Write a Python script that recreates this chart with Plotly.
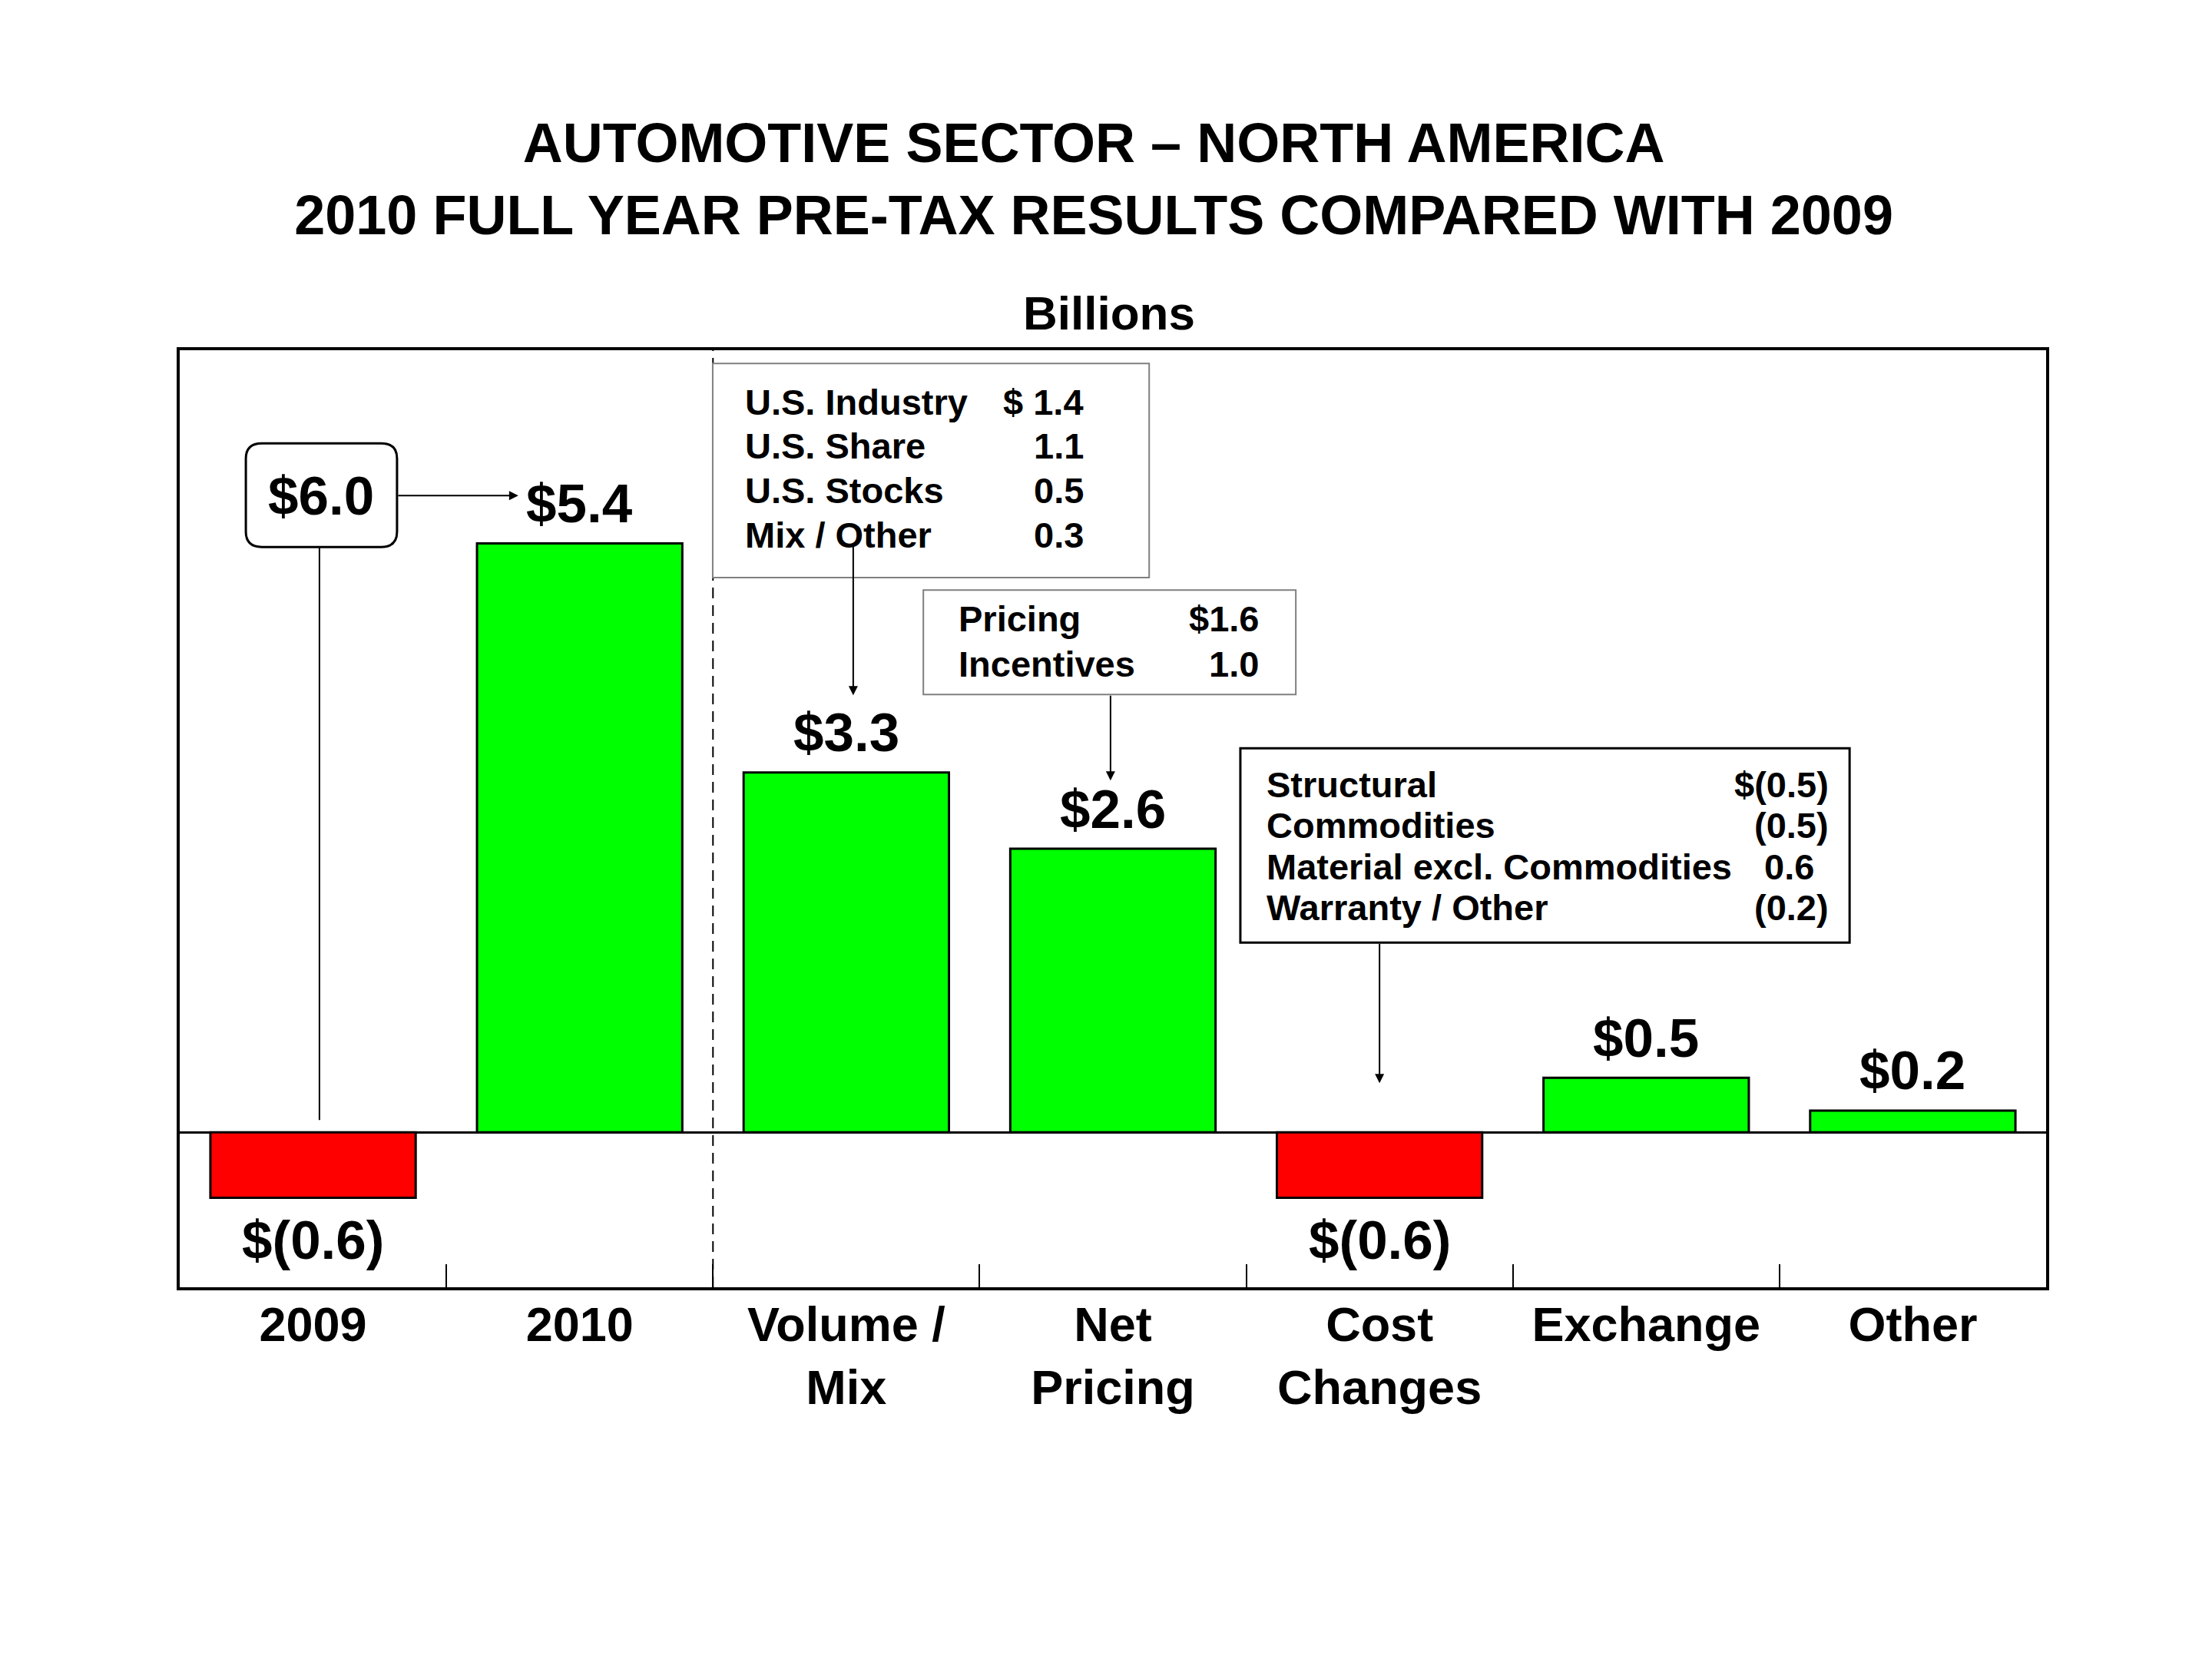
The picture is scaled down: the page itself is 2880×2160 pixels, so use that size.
import plotly.graph_objects as go

# Chart data
categories = ["2009", "2010", "Volume /<br>Mix", "Net<br>Pricing", "Cost<br>Changes", "Exchange", "Other"]
values = [-0.6, 5.4, 3.3, 2.6, -0.6, 0.5, 0.2]
value_labels = ["$(0.6)", "$5.4", "$3.3", "$2.6", "$(0.6)", "$0.5", "$0.2"]

prior_total_label = "$6.0"

volume_items = ["U.S. Industry", "U.S. Share", "U.S. Stocks", "Mix / Other"]
volume_values = ["$ 1.4", "1.1", "0.5", "0.3"]

pricing_items = ["Pricing", "Incentives"]
pricing_values = ["$1.6", "1.0"]

cost_items = ["Structural", "Commodities", "Material excl. Commodities", "Warranty / Other"]
cost_values = ["$(0.5)", "(0.5)", "0.6", "(0.2)"]

FONT = "Liberation Sans, Arial, sans-serif"
GREEN = "#00FF00"
RED = "#FF0000"

bar_colors = [GREEN if v >= 0 else RED for v in values]

fig = go.Figure(
    go.Bar(
        x=categories,
        y=values,
        width=0.77,
        marker=dict(color=bar_colors, line=dict(color="black", width=3)),
        hoverinfo="skip",
    )
)

shapes = []
annotations = []


def add_text(x, y, text, size=47, xanchor="left", yshift=0):
    annotations.append(
        dict(
            x=x, y=y, xref="x", yref="y", text=text, showarrow=False,
            xanchor=xanchor, yanchor="middle", yshift=yshift,
            font=dict(family=FONT, size=size, color="black", weight="bold"),
        )
    )


def add_arrow(x, y_from, y_to):
    annotations.append(
        dict(
            x=x, y=y_to, ax=x, ay=y_from,
            xref="x", yref="y", axref="x", ayref="y", text="",
            showarrow=True, arrowhead=2, arrowsize=1.2, arrowwidth=2,
            arrowcolor="black", standoff=0, startstandoff=0,
        )
    )


def add_box(x0, x1, y0, y1, color="black", width=2):
    shapes.append(
        dict(type="rect", xref="x", yref="y", x0=x0, x1=x1, y0=y0, y1=y1,
             line=dict(color=color, width=width), fillcolor="white", layer="above")
    )


def rounded_box(x0, x1, y0, y1, rx, ry):
    return (
        f"M {x0 + rx},{y1} L {x1 - rx},{y1} Q {x1},{y1} {x1},{y1 - ry} "
        f"L {x1},{y0 + ry} Q {x1},{y0} {x1 - rx},{y0} "
        f"L {x0 + rx},{y0} Q {x0},{y0} {x0},{y0 + ry} "
        f"L {x0},{y1 - ry} Q {x0},{y1} {x0 + rx},{y1} Z"
    )


# value labels above / below each bar
for i, (v, lab) in enumerate(zip(values, value_labels)):
    add_text(i, v, lab, size=71, xanchor="center", yshift=52 if v >= 0 else -55)

# divider between the two years and the walk items
shapes.append(
    dict(type="line", xref="x", yref="paper", x0=1.5, x1=1.5, y0=0, y1=1,
         line=dict(color="black", width=2, dash="14px,9px"))
)

# 2009 reported total box with connector lines
shapes.append(
    dict(type="path", xref="x", yref="y",
         path=rounded_box(-0.252, 0.315, 5.366, 6.317, 0.06, 0.14),
         line=dict(color="black", width=3), fillcolor="white")
)
add_text(0.03, 5.838, prior_total_label, size=71, xanchor="center")
shapes.append(
    dict(type="line", xref="x", yref="y", x0=0.024, x1=0.024, y0=5.366, y1=0.113,
         line=dict(color="black", width=2))
)
annotations.append(
    dict(x=0.77, y=5.838, ax=0.315, ay=5.838, xref="x", yref="y", axref="x", ayref="y",
         text="", showarrow=True, arrowhead=2, arrowsize=1.2, arrowwidth=2,
         arrowcolor="black", standoff=0)
)

# Volume / Mix detail box
add_box(1.499, 3.136, 5.085, 7.049, color="#808080", width=2)
for i, (item, val) in enumerate(zip(volume_items, volume_values)):
    y = 6.697 - i * 0.406
    add_text(1.614, y, item)
    add_text(2.896, y, val, xanchor="right")
add_arrow(2.026, 5.394, 4.007)

# Net pricing detail box
add_box(2.289, 3.686, 4.014, 4.972, color="#808080", width=2)
for i, (item, val) in enumerate(zip(pricing_items, pricing_values)):
    y = 4.711 - i * 0.415
    add_text(2.415, y, item)
    add_text(3.553, y, val, xanchor="right")
add_arrow(2.991, 4.014, 3.225)

# Cost changes detail box
add_box(3.478, 5.763, 1.739, 3.521, color="black", width=3)
for i, (item, val) in enumerate(zip(cost_items, cost_values)):
    y = 3.190 - i * 0.376
    add_text(3.570, y, item)
    add_text(5.691 if val.endswith(")") else 5.635, y, val, xanchor="right")
add_arrow(4.0, 1.739, 0.451)

annotations.append(
    dict(x=0.498, y=1.04, xref="paper", yref="paper", text="Billions", showarrow=False,
         xanchor="center", yanchor="middle",
         font=dict(family=FONT, size=62, color="black", weight="bold"))
)

fig.update_layout(
    width=2880,
    height=2160,
    paper_bgcolor="white",
    plot_bgcolor="white",
    showlegend=False,
    font=dict(family=FONT, color="black", weight="bold"),
    title=dict(
        text="AUTOMOTIVE SECTOR \u2013 NORTH AMERICA<br>2010 FULL YEAR PRE-TAX RESULTS COMPARED WITH 2009",
        x=0.4917, xref="container", xanchor="center",
        y=0.906, yref="container", yanchor="middle",
        font=dict(family=FONT, size=72, color="black", weight="bold"),
    ),
    margin=dict(l=226, r=224, t=448, b=492, autoexpand=False),
    xaxis=dict(
        type="category",
        range=[-0.5, 6.5],
        showline=True, linecolor="black", linewidth=4, mirror=True,
        ticks="inside", tickson="boundaries", ticklen=30, tickwidth=2, tickcolor="black",
        tickfont=dict(family=FONT, size=63, color="black", weight="bold"),
        ticklabelstandoff=-10,
        showgrid=False,
    ),
    yaxis=dict(
        range=[-1.42, 7.17],
        showline=True, linecolor="black", linewidth=4, mirror=True,
        showticklabels=False, ticks="", showgrid=False,
        zeroline=True, zerolinecolor="black", zerolinewidth=3,
    ),
    shapes=shapes,
    annotations=annotations,
)

fig.write_html("out.html")
